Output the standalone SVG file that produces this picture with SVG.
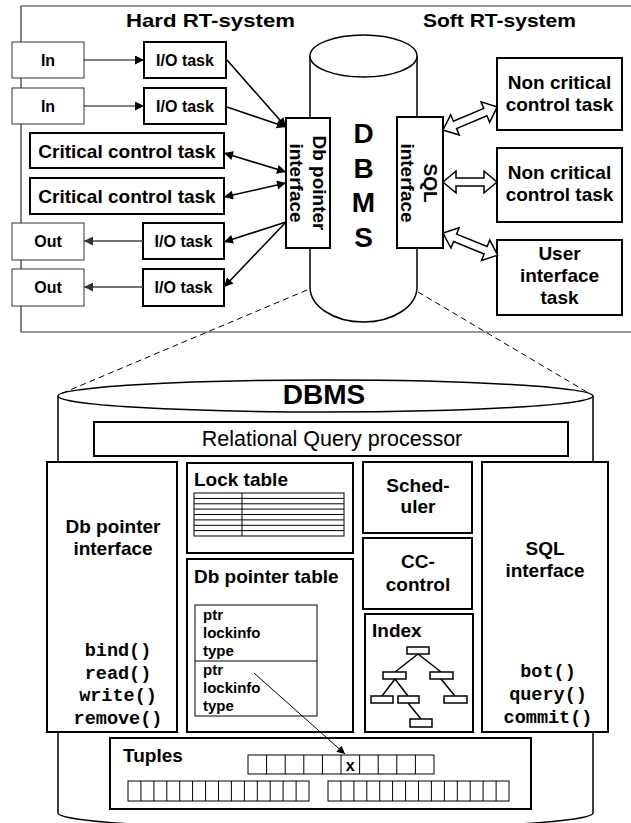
<svg xmlns="http://www.w3.org/2000/svg" width="631" height="823" viewBox="0 0 631 823">
<style>
text{font-family:"Liberation Sans",Arial,sans-serif;fill:#000}
.b{font-weight:bold}
.m{font-family:"Liberation Mono","Courier New",monospace;font-weight:bold;font-size:18.5px}
.thin{fill:#fff;stroke:#333;stroke-width:1}
.thick{fill:#fff;stroke:#000;stroke-width:2}
.cyl{fill:#fff;stroke:#000;stroke-width:1.5}
.ln{fill:none;stroke:#000;stroke-width:1}
.ar{fill:none;stroke:#000;stroke-width:1.6}
.gr{fill:none;stroke:#444;stroke-width:1.6}
.blk{fill:#fff;stroke:#000;stroke-width:1.5}
.dash{fill:none;stroke:#000;stroke-width:1;stroke-dasharray:6 4}
.t16{font-size:16px}
.t19{font-size:19px}
.t15{font-size:15px}
</style>
<defs>
<marker id="ah" viewBox="0 0 10 10" refX="10" refY="5" markerWidth="11" markerHeight="9" markerUnits="userSpaceOnUse" orient="auto-start-reverse"><path d="M0,0 L10,5 L0,10 Z" fill="#000"/></marker>
<marker id="ahg" viewBox="0 0 10 10" refX="10" refY="5" markerWidth="11" markerHeight="9" markerUnits="userSpaceOnUse" orient="auto-start-reverse"><path d="M0,0 L10,5 L0,10 Z" fill="#333"/></marker>
<marker id="ahs" viewBox="0 0 10 10" refX="10" refY="5" markerWidth="10" markerHeight="8" markerUnits="userSpaceOnUse" orient="auto"><path d="M0,0 L10,5 L0,10 Z" fill="#000"/></marker>
</defs>

<!-- top frame -->
<g id="frame">
<path d="M632,6 H21 V332 H632" fill="none" stroke="#333" stroke-width="1.2"/>
<text class="b" x="210.5" y="27" font-size="19" text-anchor="middle" textLength="169" lengthAdjust="spacingAndGlyphs">Hard RT-system</text>
<text class="b" x="499.5" y="27" font-size="19" text-anchor="middle" textLength="153" lengthAdjust="spacingAndGlyphs">Soft RT-system</text>
</g>

<!-- top DBMS cylinder -->
<g id="dbms-top">
<path class="cyl" d="M310,56 L310,287 A53.5,35 0 0 0 417,287 L417,56"/>
<ellipse class="cyl" cx="363.5" cy="56" rx="53.5" ry="21"/>
<text class="b" x="363.5" y="143" font-size="28" text-anchor="middle">D</text>
<text class="b" x="363.5" y="178" font-size="28" text-anchor="middle">B</text>
<text class="b" x="363.5" y="212" font-size="28" text-anchor="middle">M</text>
<text class="b" x="363.5" y="247" font-size="28" text-anchor="middle">S</text>
</g>

<g id="dbptr-if-top">
<rect class="thick" x="286" y="118" width="44" height="130"/>
<text class="b t19" transform="translate(313,183) rotate(90)" text-anchor="middle">Db pointer</text>
<text class="b t19" transform="translate(290,183) rotate(90)" text-anchor="middle">interface</text>
</g>

<g id="sql-if-top">
<rect class="thick" x="397" y="117" width="46" height="131"/>
<text class="b t19" transform="translate(424,183) rotate(90)" text-anchor="middle">SQL</text>
<text class="b t19" transform="translate(401,183) rotate(90)" text-anchor="middle">interface</text>
</g>

<g id="in1"><rect class="thin" x="12" y="42" width="72" height="36"/><text class="b t16" x="48" y="65.5" text-anchor="middle">In</text></g>
<g id="in2"><rect class="thin" x="12" y="88" width="72" height="36"/><text class="b t16" x="48" y="111.5" text-anchor="middle">In</text></g>
<g id="io1"><rect class="thick" x="144" y="42" width="82" height="36"/><text class="b t16" x="185" y="65.5" text-anchor="middle">I/O task</text></g>
<g id="io2"><rect class="thick" x="144" y="88" width="82" height="36"/><text class="b t16" x="185" y="111.5" text-anchor="middle">I/O task</text></g>
<g id="crit1"><rect class="thick" x="30" y="133" width="194" height="35"/><text class="b t19" x="127" y="157.5" text-anchor="middle">Critical control task</text></g>
<g id="crit2"><rect class="thick" x="30" y="178" width="194" height="36"/><text class="b t19" x="127" y="203" text-anchor="middle">Critical control task</text></g>
<g id="out1"><rect class="thin" x="12" y="223" width="72" height="37"/><text class="b t16" x="48" y="247" text-anchor="middle">Out</text></g>
<g id="out2"><rect class="thin" x="12" y="269" width="72" height="37"/><text class="b t16" x="48" y="293" text-anchor="middle">Out</text></g>
<g id="io3"><rect class="thick" x="143" y="223" width="81" height="36"/><text class="b t16" x="183.5" y="247" text-anchor="middle">I/O task</text></g>
<g id="io4"><rect class="thick" x="143" y="269" width="81" height="37"/><text class="b t16" x="183.5" y="293" text-anchor="middle">I/O task</text></g>

<g id="noncrit1"><rect class="thick" x="497" y="58" width="125" height="72"/>
<text class="b t19" x="559.5" y="89" text-anchor="middle">Non critical</text>
<text class="b t19" x="559.5" y="111" text-anchor="middle">control task</text></g>
<g id="noncrit2"><rect class="thick" x="497" y="148" width="125" height="74"/>
<text class="b t19" x="559.5" y="179" text-anchor="middle">Non critical</text>
<text class="b t19" x="559.5" y="201" text-anchor="middle">control task</text></g>
<g id="uitask"><rect class="thick" x="497" y="240" width="125" height="75"/>
<text class="b t19" x="559.5" y="260" text-anchor="middle">User</text>
<text class="b t19" x="559.5" y="282" text-anchor="middle">interface</text>
<text class="b t19" x="559.5" y="304" text-anchor="middle">task</text></g>

<!-- bottom DBMS cylinder -->
<g id="dbms-detail">
<path class="cyl" d="M58,396 L58,813 A267.5,16 0 0 0 593,813 L593,396"/>
<ellipse class="cyl" cx="325.5" cy="396" rx="267.5" ry="16"/>
<text class="b" x="324" y="404" font-size="28" text-anchor="middle">DBMS</text>
</g>

<g id="rqp"><rect class="thick" x="94" y="422" width="474" height="34"/>
<text x="332" y="445.5" font-size="21.5" text-anchor="middle">Relational Query processor</text></g>

<g id="dbptr-if"><rect class="thick" x="47" y="462" width="130" height="270"/>
<text class="b t19" x="113" y="533" text-anchor="middle">Db pointer</text>
<text class="b t19" x="113" y="555" text-anchor="middle">interface</text>
<text class="m" x="118" y="656" text-anchor="middle">bind()</text>
<text class="m" x="118" y="679" text-anchor="middle">read()</text>
<text class="m" x="118" y="701" text-anchor="middle">write()</text>
<text class="m" x="118" y="724" text-anchor="middle">remove()</text></g>

<g id="locktable"><rect class="thick" x="187" y="463" width="166" height="90"/>
<text class="b t19" x="194" y="486">Lock table</text>
<rect x="194" y="493" width="150" height="43" fill="none" stroke="#000" stroke-width="1"/>
<path class="ln" d="M242,493V536M194,498.4H344M194,503.8H344M194,509.1H344M194,514.5H344M194,519.9H344M194,525.3H344M194,530.6H344"/></g>

<g id="dbptrtable"><rect class="thick" x="187" y="559" width="166" height="173"/>
<text class="b t19" x="194" y="583">Db pointer table</text>
<rect x="195" y="605" width="122" height="111" fill="#fff" stroke="#000" stroke-width="1"/>
<path class="ln" d="M195,661H317"/>
<text class="b t15" x="203" y="620">ptr</text>
<text class="b t15" x="203" y="638">lockinfo</text>
<text class="b t15" x="203" y="656">type</text>
<text class="b t15" x="203" y="675">ptr</text>
<text class="b t15" x="203" y="693">lockinfo</text>
<text class="b t15" x="203" y="711">type</text></g>

<g id="scheduler"><rect class="thick" x="363" y="462" width="109" height="71"/>
<text class="b t19" x="418" y="492" text-anchor="middle">Sched-</text>
<text class="b t19" x="418" y="513" text-anchor="middle">uler</text></g>

<g id="cccontrol"><rect class="thick" x="363" y="538" width="109" height="71"/>
<text class="b t19" x="418" y="568" text-anchor="middle">CC-</text>
<text class="b t19" x="418" y="591" text-anchor="middle">control</text></g>

<g id="index"><rect class="thick" x="365" y="614" width="108" height="118"/>
<text class="b t19" x="372" y="637">Index</text>
<path fill="none" stroke="#000" stroke-width="1.5" d="M418,654L395,672M418,654L441,672M395,679L382,696M395,679L408,696M441,679L455,696M408,703L421,719"/>
<g fill="#fff" stroke="#000" stroke-width="1.5">
<rect x="407" y="647" width="22" height="7"/>
<rect x="383" y="672" width="23" height="7"/>
<rect x="430" y="672" width="23" height="7"/>
<rect x="371" y="696" width="22" height="7"/>
<rect x="398" y="696" width="21" height="7"/>
<rect x="444" y="696" width="23" height="7"/>
<rect x="410" y="719" width="22" height="8"/>
</g></g>

<g id="sql-if"><rect class="thick" x="482" y="462" width="126" height="270"/>
<text class="b t19" x="545" y="555" text-anchor="middle">SQL</text>
<text class="b t19" x="545" y="577" text-anchor="middle">interface</text>
<text class="m" x="548" y="677" text-anchor="middle">bot()</text>
<text class="m" x="548" y="700" text-anchor="middle">query()</text>
<text class="m" x="548" y="723" text-anchor="middle">commit()</text></g>

<g id="tuples"><rect class="thick" x="110" y="738" width="421" height="71"/>
<text class="b t19" x="123" y="762">Tuples</text>
<rect x="248" y="755" width="186" height="19" fill="none" stroke="#000" stroke-width="1"/>
<path class="ln" d="M266.6,755V774M285.2,755V774M303.8,755V774M322.4,755V774M341,755V774M359.6,755V774M378.2,755V774M396.8,755V774M415.4,755V774"/>
<text class="b" x="350.3" y="771" font-size="16" text-anchor="middle">x</text>
<rect x="128" y="781" width="181" height="20" fill="none" stroke="#000" stroke-width="1"/>
<path class="ln" d="M140.9,781V801M153.9,781V801M166.8,781V801M179.7,781V801M192.6,781V801M205.6,781V801M218.5,781V801M231.4,781V801M244.4,781V801M257.3,781V801M270.2,781V801M283.1,781V801M296.1,781V801"/>
<rect x="328" y="781" width="181" height="20" fill="none" stroke="#000" stroke-width="1"/>
<path class="ln" d="M340.9,781V801M353.9,781V801M366.8,781V801M379.7,781V801M392.6,781V801M405.6,781V801M418.5,781V801M431.4,781V801M444.4,781V801M457.3,781V801M470.2,781V801M483.1,781V801M496.1,781V801"/></g>

<!-- connectors -->
<g id="connectors">
<line class="ln" x1="84" y1="60" x2="144" y2="60" marker-end="url(#ah)"/>
<line class="ln" x1="84" y1="106" x2="144" y2="106" marker-end="url(#ah)"/>
<line class="ar" x1="227" y1="60" x2="286" y2="127" marker-end="url(#ah)"/>
<line class="ar" x1="227" y1="107" x2="286" y2="127" marker-end="url(#ah)"/>
<line class="ar" x1="224" y1="153" x2="286" y2="172" marker-start="url(#ah)" marker-end="url(#ah)"/>
<line class="ar" x1="224" y1="197" x2="286" y2="183" marker-start="url(#ah)" marker-end="url(#ah)"/>
<line class="ar" x1="286" y1="222" x2="224" y2="242" marker-end="url(#ah)"/>
<line class="ar" x1="286" y1="222" x2="224" y2="287" marker-end="url(#ah)"/>
<line class="gr" x1="143" y1="241" x2="84" y2="241" marker-end="url(#ahg)"/>
<line class="gr" x1="143" y1="287" x2="84" y2="287" marker-end="url(#ahg)"/>
<path class="blk" transform="translate(443,130) rotate(-23)" d="M0,0 L13,-11 L13,-4 L46,-4 L46,-11 L59,0 L46,11 L46,4 L13,4 L13,11 Z"/>
<path class="blk" transform="translate(443,182)" d="M0,0 L13,-11 L13,-4 L41,-4 L41,-11 L54,0 L41,11 L41,4 L13,4 L13,11 Z"/>
<path class="blk" transform="translate(443,233) rotate(22)" d="M0,0 L13,-11 L13,-4 L46,-4 L46,-11 L59,0 L46,11 L46,4 L13,4 L13,11 Z"/>
<line class="dash" x1="307" y1="290" x2="58" y2="395"/>
<line class="dash" x1="418" y1="292" x2="592" y2="395"/>
<line class="ln" x1="254" y1="673" x2="345" y2="754" marker-end="url(#ahs)"/>
</g>
</svg>
